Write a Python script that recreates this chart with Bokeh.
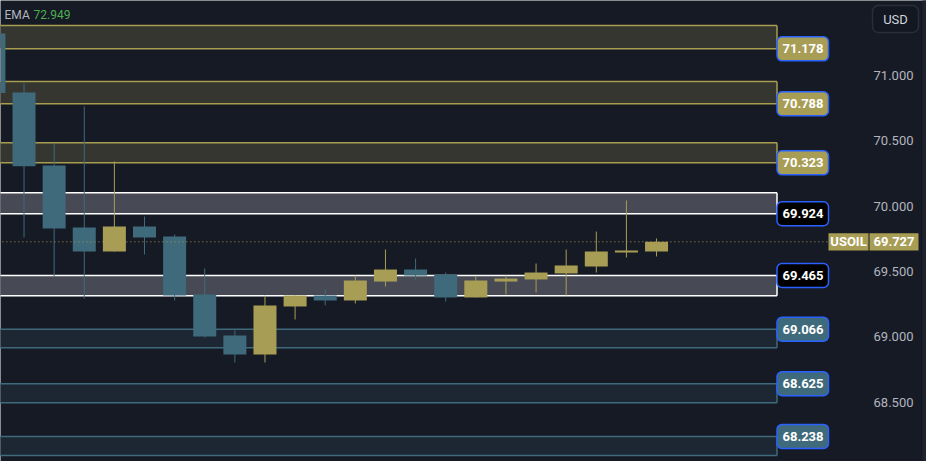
from bokeh.plotting import figure
from bokeh.models import Range1d, ColumnDataSource
from bokeh.core.properties import value
from bokeh.embed import file_html
from bokeh.resources import INLINE

# ---- data ----
opens  = [71.322, 70.871, 70.312, 69.837, 69.653, 69.845, 69.768, 69.324, 69.010, 68.864, 69.232, 69.316,
          69.278, 69.423, 69.515, 69.477, 69.301, 69.423, 69.439, 69.485, 69.538, 69.645, 69.653]
highs  = [71.420, 70.940, 70.480, 70.763, 70.342, 69.921, 69.783, 69.523, 69.048, 69.316, 69.316, 69.362,
          69.469, 69.668, 69.600, 69.492, 69.462, 69.469, 69.561, 69.668, 69.806, 70.044, 69.753]
lows   = [70.850, 69.760, 69.462, 69.293, 69.653, 69.630, 69.278, 68.995, 68.803, 68.803, 69.132, 69.240,
          69.255, 69.385, 69.439, 69.270, 69.301, 69.324, 69.339, 69.316, 69.492, 69.607, 69.615]
closes = [70.866, 70.305, 69.829, 69.653, 69.845, 69.760, 69.316, 69.002, 68.864, 69.240, 69.316, 69.278,
          69.431, 69.515, 69.469, 69.301, 69.431, 69.446, 69.492, 69.546, 69.653, 69.661, 69.727]

zone_low   = [71.205, 70.784, 70.332, 69.942, 69.314, 68.916, 68.494, 68.090]
zone_high  = [71.384, 70.955, 70.485, 70.103, 69.469, 69.058, 68.640, 68.237]
zone_label = ["71.178", "70.788", "70.323", "69.924", "69.465", "69.066", "68.625", "68.238"]
zone_kind  = ["supply", "supply", "supply", "pivot", "pivot", "demand", "demand", "demand"]
label_edge = ["low", "low", "low", "low", "high", "high", "high", "high"]

price_ticks = [68.5, 69.0, 69.5, 70.0, 70.5, 71.0]
last_price = 69.727
symbol = "USOIL"
ema_name = "EMA"
ema_value = "72.949"
currency = "USD"

# ---- styles ----
BG = "#161a25"
UP = "#a89d55"
DOWN = "#3f6a7c"
FONT = "Roboto"
zone_style = {
    "supply": dict(fill="#363630", line="#a89d4f", tag_fill="#a89d55"),
    "pivot":  dict(fill="#474a54", line="#ffffff", tag_fill="#000000"),
    "demand": dict(fill="#1c2733", line="#3f6a7c", tag_fill="#3f6a7c"),
}

W, H = 926, 461
BAR_PX = 30.12
x_start = 0.219
x_end = x_start + W / BAR_PX
y_top = 71.575
y_bot = 68.045
PX_PER_PRICE = H / (y_top - y_bot)


def px_to_x(px):
    return x_start + px / BAR_PX


def px_to_y(py):
    return y_top - py / PX_PER_PRICE


def dy(pixels):
    return pixels / PX_PER_PRICE


p = figure(width=W, height=H, output_backend="svg", toolbar_location=None,
           x_range=Range1d(x_start, x_end), y_range=Range1d(y_bot, y_top),
           x_axis_location=None, y_axis_location=None,
           background_fill_color=BG, border_fill_color=BG,
           min_border=0)
p.outline_line_color = None
p.grid.visible = False

# ---- right edge strip ----
p.quad(left=px_to_x(922), right=x_end + 1, bottom=y_bot - 1, top=y_top + 1, fill_color="#1f232e", line_color=None)

# ---- zones ----
zone_right = px_to_x(776.5)
for lo, hi, kind in zip(zone_low, zone_high, zone_kind):
    st = zone_style[kind]
    p.quad(left=x_start - 1, right=zone_right, bottom=lo, top=hi,
           fill_color=st["fill"], line_color=None)
    p.segment(x0=[x_start - 1, x_start - 1], x1=[zone_right, zone_right], y0=[lo, hi], y1=[lo, hi],
              line_color=st["line"], line_width=1.5)
    p.segment(x0=[zone_right], x1=[zone_right], y0=[lo], y1=[hi], line_color=st["line"], line_width=1.5)

# ---- candles ----
xs = list(range(len(opens)))
colors = [UP if c >= o else DOWN for o, c in zip(opens, closes)]
src = ColumnDataSource(dict(x=xs, o=opens, h=highs, l=lows, c=closes,
                            top=[max(o, c) for o, c in zip(opens, closes)],
                            bottom=[min(o, c) for o, c in zip(opens, closes)],
                            color=colors))
p.segment(x0="x", x1="x", y0="l", y1="h", line_color="color", line_width=1, source=src)
p.vbar(x="x", width=23 / BAR_PX, top="top", bottom="bottom", fill_color="color", line_color=None, source=src)

# ---- last price line (within plot area) ----
p.segment(x0=[x_start - 1], x1=[px_to_x(828)], y0=[last_price], y1=[last_price],
          line_color=UP, line_dash="1 3", line_width=1)

# ---- price scale labels ----
p.text(x=[px_to_x(913)] * len(price_ticks), y=price_ticks, text=[f"{t:.3f}" for t in price_ticks],
       text_align="right", text_baseline="middle", text_color="#b2b5be",
       text_font=value(FONT), text_font_size="13px")

# ---- zone tags ----
tag_y = [lo if e == "low" else hi for lo, hi, e in zip(zone_low, zone_high, label_edge)]
tag_fill = [zone_style[k]["tag_fill"] for k in zone_kind]
p.quad(left=px_to_x(776.5), right=px_to_x(828), bottom=[y - dy(12) for y in tag_y], top=[y + dy(12) for y in tag_y],
       fill_color=tag_fill, line_color="#2962ff", line_width=1.5, border_radius=5)
p.text(x=[px_to_x(802.5)] * len(tag_y), y=tag_y, text=zone_label, text_align="center", text_baseline="middle",
       text_color="#ffffff", text_font=value(FONT), text_font_style="bold", text_font_size="13px")

# ---- last price tags ----
p.quad(left=[px_to_x(828), px_to_x(869)], right=[px_to_x(868), px_to_x(918)],
       bottom=last_price - dy(8.7), top=last_price + dy(8.7), fill_color=UP, line_color=None)
p.text(x=[px_to_x(848), px_to_x(893.5)], y=[last_price, last_price], text=[symbol, f"{last_price:.3f}"],
       text_align="center", text_baseline="middle", text_color="#ffffff",
       text_font=value(FONT), text_font_style="bold", text_font_size="13px")

# ---- header texts ----
p.text(x=[px_to_x(4), px_to_x(33)], y=[px_to_y(14)] * 2, text=[ema_name, ema_value],
       text_align="left", text_baseline="middle", text_color=["#b2b5be", "#4caf50"],
       text_font=value(FONT), text_font_size="12px")

# ---- currency button ----
p.quad(left=px_to_x(872), right=px_to_x(918), top=px_to_y(5), bottom=px_to_y(32),
       fill_color="#131722", line_color="#2a2e39", line_width=1.5, border_radius=6)
p.text(x=[px_to_x(895)], y=[px_to_y(18.5)], text=[currency], text_align="center", text_baseline="middle",
       text_color="#d1d4dc", text_font=value(FONT), text_font_size="13px")

open("out.html", "w").write(file_html(p, INLINE))
